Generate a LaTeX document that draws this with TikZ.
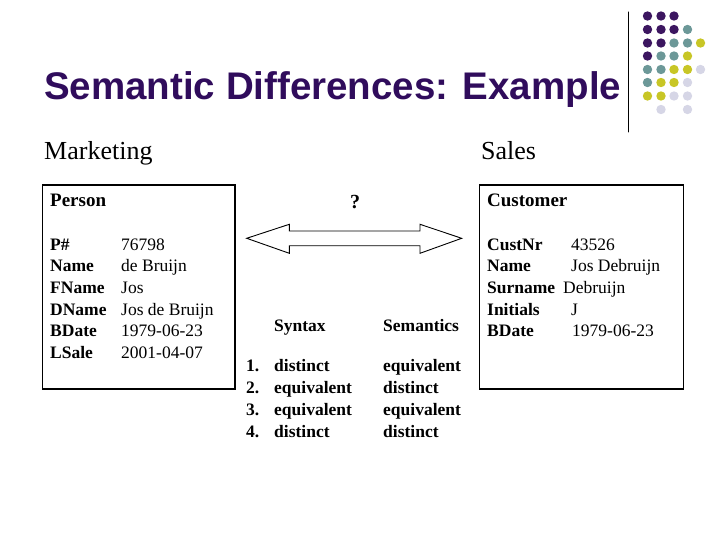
\documentclass[tikz,border=0pt]{standalone}
\usepackage{fontspec}
\setmainfont{Liberation Serif}
\newfontfamily\headfont{Liberation Sans}
\usepackage{xcolor}
\definecolor{titlepurple}{RGB}{48,12,92}
\definecolor{dotpurple}{RGB}{60,22,96}
\definecolor{dotteal}{RGB}{108,152,152}
\definecolor{dotyellow}{RGB}{200,198,38}
\definecolor{dotlav}{RGB}{214,214,230}

\begin{document}
\begin{tikzpicture}[x=1pt,y=-1pt,line cap=round,
  lbl/.style={anchor=base west,inner sep=0pt,font=\fontsize{17.5}{20}\selectfont\bfseries},
  val/.style={anchor=base west,inner sep=0pt,font=\fontsize{17.5}{20}\selectfont},
  hd/.style={anchor=base west,inner sep=0pt,font=\fontsize{19}{22}\selectfont\bfseries},
  dept/.style={anchor=base west,inner sep=0pt,font=\fontsize{26}{30}\selectfont}]
\useasboundingbox (0,0) rectangle (720,540);
% title and corner decoration
\node[anchor=base west,inner sep=0pt,text=titlepurple,font=\headfont\bfseries\fontsize{38.5}{44}\selectfont] (title) at (44,100) {Semantic Differences: Example};
\draw[line width=1pt] (628,12) -- (628,132);
\fill[dotpurple] (647.5,16) circle (4.7) (661,16) circle (4.7) (674,16) circle (4.7)
  (647.5,29.5) circle (4.7) (661,29.5) circle (4.7) (674,29.5) circle (4.7)
  (647.5,43) circle (4.7) (661,43) circle (4.7)
  (647.5,56) circle (4.7);
\fill[dotteal] (687.5,29.5) circle (4.7)
  (674,43) circle (4.7) (687.5,43) circle (4.7)
  (661,56) circle (4.7) (674,56) circle (4.7)
  (647.5,69.5) circle (4.7) (661,69.5) circle (4.7)
  (647.5,82.5) circle (4.7);
\fill[dotyellow] (700.5,43) circle (4.7)
  (687.5,56) circle (4.7)
  (674,69.5) circle (4.7) (687.5,69.5) circle (4.7)
  (661,82.5) circle (4.7) (674,82.5) circle (4.7)
  (647.5,96) circle (4.7) (661,96) circle (4.7);
\fill[dotlav] (700.5,69.5) circle (4.7)
  (687.5,82.5) circle (4.7)
  (674,96) circle (4.7) (687.5,96) circle (4.7)
  (661,109.5) circle (4.7) (687.5,109.5) circle (4.7);
% the two departments
\node[dept] (mkt) at (44,160) {Marketing};
\node[dept] (sales) at (481,160) {Sales};
\draw[line width=1.4pt] (42.5,185) rectangle (235,389);
\draw[line width=1.4pt] (479.5,185) rectangle (683.5,389);
\node[hd] (person) at (50,207) {Person};
\node[hd] (customer) at (487,207) {Customer};
\node[lbl] (pnr) at (50,250) {P\#};
\node[lbl] (pname) at (50,271.7) {Name};
\node[lbl] (pfname) at (50,293.4) {FName};
\node[lbl] (pdname) at (50,315.1) {DName};
\node[lbl] (pbdate) at (50,336.8) {BDate};
\node[lbl] (plsale) at (50,358.5) {LSale};
\node[val] (vnr) at (121,250) {76798};
\node[val] (vname) at (121,271.7) {de Bruijn};
\node[val] (vfname) at (121,293.4) {Jos};
\node[val] (vdname) at (121,315.1) {Jos de Bruijn};
\node[val] (vbdate) at (121,336.8) {1979-06-23};
\node[val] (vlsale) at (121,358.5) {2001-04-07};
\node[lbl] (cnr) at (487,250) {CustNr};
\node[lbl] (cname) at (487,271.7) {Name};
\node[lbl] (csurname) at (487,293.4) {Surname};
\node[lbl] (cinit) at (487,315.1) {Initials};
\node[lbl] (cbdate) at (487,336.8) {BDate};
\node[val] (wnr) at (571,250) {43526};
\node[val] (wname) at (571,271.7) {Jos Debruijn};
\node[val] (wsurname) at (563,293.4) {Debruijn};
\node[val] (winit) at (571,315.1) {J};
\node[val] (wbdate) at (572,336.8) {1979-06-23};
% the question in between
\node[anchor=base,inner sep=0pt,font=\fontsize{20}{24}\selectfont\bfseries] (q) at (355,209) {?};
\draw[line width=0.9pt,line join=miter] (246.7,238.3) -- (289.3,224.3) -- (289.3,231) -- (420,231)
  -- (420,224.3) -- (461.7,238.3) -- (420,253.3) -- (420,245.7) -- (289.3,245.7)
  -- (289.3,253.3) -- cycle;
\node[lbl] (syn) at (274,331) {Syntax};
\node[lbl] (sem) at (383,331) {Semantics};
\node[lbl] (n1) at (246,371) {1.};
\node[lbl] (n2) at (246,393.2) {2.};
\node[lbl] (n3) at (246,415.4) {3.};
\node[lbl] (n4) at (246,437.6) {4.};
\node[lbl] (s1) at (274,371) {distinct};
\node[lbl] (s2) at (274,393.2) {equivalent};
\node[lbl] (s3) at (274,415.4) {equivalent};
\node[lbl] (s4) at (274,437.6) {distinct};
\node[lbl] (m1) at (383,371) {equivalent};
\node[lbl] (m2) at (383,393.2) {distinct};
\node[lbl] (m3) at (383,415.4) {equivalent};
\node[lbl] (m4) at (383,437.6) {distinct};
\end{tikzpicture}
\end{document}
